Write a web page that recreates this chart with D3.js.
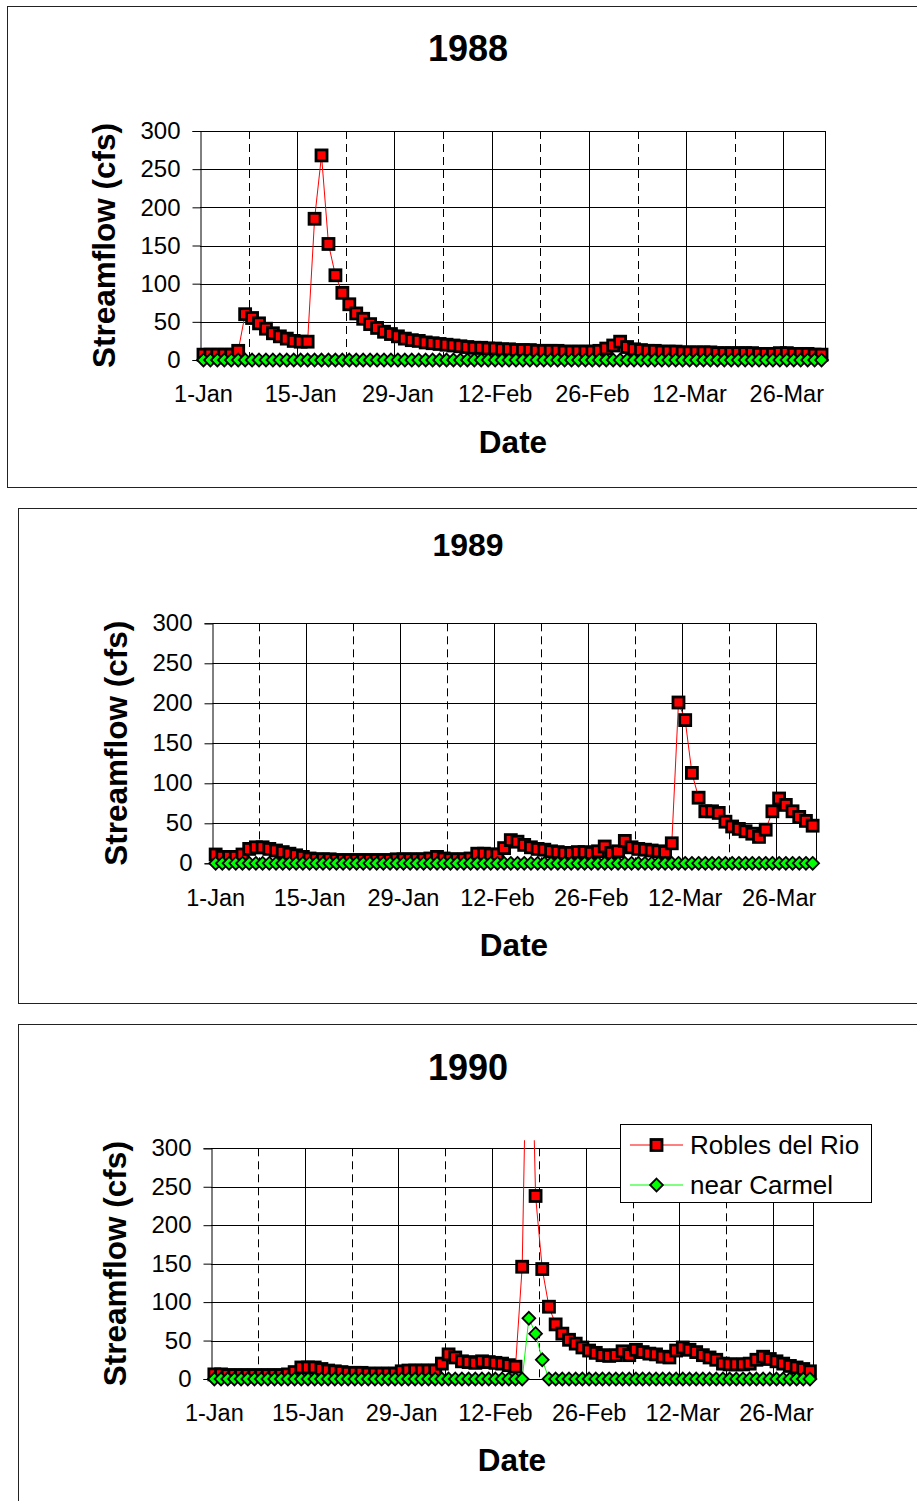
<!DOCTYPE html>
<html>
<head>
<meta charset="utf-8">
<script src="https://cdn.jsdelivr.net/npm/d3@7"></script>
<style>
  body { margin: 0; background: #fff; }
  svg { display: block; }
  text { font-family: "Liberation Sans", Arial, Helvetica, sans-serif; fill: #000; }
</style>
</head>
<body>
<svg id="chart" width="917" height="1501"></svg>
<script>
// Daily streamflow, Carmel River, 1 Jan – 30/31 Mar (cfs)
const tickDays = [0, 14, 28, 42, 56, 70, 84];
const tickLabels = ["1-Jan", "15-Jan", "29-Jan", "12-Feb", "26-Feb", "12-Mar", "26-Mar"];
const yTicks = [0, 50, 100, 150, 200, 250, 300];
const seriesNames = ["Robles del Rio", "near Carmel"];

const robles1988 = [
  7, 7, 7, 7, 7, 12, 60, 55, 48, 41,
  35, 31, 28, 25, 24, 24, 185, 268, 152, 111,
  88, 73, 61, 54, 47, 42, 37, 34, 31, 28,
  26, 25, 23, 22, 21, 20, 19, 18, 17, 16,
  16, 15, 15, 14, 14, 13, 13, 13, 12, 12,
  12, 12, 11, 11, 11, 11, 11, 12, 15, 19,
  24, 17, 14, 13, 12, 12, 11, 11, 11, 10,
  10, 10, 10, 10, 9, 9, 9, 9, 9, 9,
  8, 8, 8, 9, 9, 8, 8, 8, 7, 7
];
const carmel1988 = [
  0, 0, 0, 0, 0, 0, 0, 0, 0, 0,
  0, 0, 0, 0, 0, 0, 0, 0, 0, 0,
  0, 0, 0, 0, 0, 0, 0, 0, 0, 0,
  0, 0, 0, 0, 0, 0, 0, 0, 0, 0,
  0, 0, 0, 0, 0, 0, 0, 0, 0, 0,
  0, 0, 0, 0, 0, 0, 0, 0, 0, 0,
  0, 0, 0, 0, 0, 0, 0, 0, 0, 0,
  0, 0, 0, 0, 0, 0, 0, 0, 0, 0,
  0, 0, 0, 0, 0, 0, 0, 0, 0, 0
];

const robles1989 = [
  11, 8, 8, 8, 11, 18, 20, 20, 18, 16,
  14, 12, 10, 8, 6, 5, 5, 5, 4, 4,
  4, 4, 4, 4, 4, 4, 4, 5, 5, 5,
  5, 5, 6, 8, 6, 5, 5, 5, 6, 12,
  12, 11, 11, 19, 29, 27, 23, 20, 18, 17,
  15, 14, 13, 13, 14, 14, 13, 15, 21, 13,
  15, 28, 20, 18, 17, 16, 15, 14, 25, 201,
  179, 113, 82, 65, 65, 63, 52, 46, 43, 40,
  37, 33, 42, 65, 81, 73, 65, 58, 53, 47
];
const carmel1989 = [
  0, 0, 0, 0, 0, 0, 0, 0, 0, 0,
  0, 0, 0, 0, 0, 0, 0, 0, 0, 0,
  0, 0, 0, 0, 0, 0, 0, 0, 0, 0,
  0, 0, 0, 0, 0, 0, 0, 0, 0, 0,
  0, 0, 0, 0, 0, 0, 0, 0, 0, 0,
  0, 0, 0, 0, 0, 0, 0, 0, 0, 0,
  0, 0, 0, 0, 0, 0, 0, 0, 0, 0,
  0, 0, 0, 0, 0, 0, 0, 0, 0, 0,
  0, 0, 0, 0, 0, 0, 0, 0, 0, 0
];

const robles1990 = [
  6, 6, 5, 5, 5, 5, 5, 5, 5, 5,
  5, 6, 9, 15, 15, 15, 13, 11, 10, 9,
  8, 8, 8, 7, 7, 7, 7, 7, 10, 11,
  11, 11, 11, 11, 20, 32, 28, 23, 22, 21,
  23, 22, 21, 20, 18, 16, 146, 620, 238, 143,
  94, 71, 59, 51, 46, 41, 37, 34, 31, 30,
  31, 36, 31, 38, 35, 33, 32, 29, 28, 37,
  41, 38, 35, 31, 28, 25, 20, 19, 19, 19,
  20, 25, 29, 26, 23, 20, 17, 15, 13, 10
];
const carmel1990 = [
  0, 0, 0, 0, 0, 0, 0, 0, 0, 0,
  0, 0, 0, 0, 0, 0, 0, 0, 0, 0,
  0, 0, 0, 0, 0, 0, 0, 0, 0, 0,
  0, 0, 0, 0, 0, 0, 0, 0, 0, 0,
  0, 0, 0, 0, 0, 0, 0, 79, 59, 25,
  0, 0, 0, 0, 0, 0, 0, 0, 0, 0,
  0, 0, 0, 0, 0, 0, 0, 0, 0, 0,
  0, 0, 0, 0, 0, 0, 0, 0, 0, 0,
  0, 0, 0, 0, 0, 0, 0, 0, 0, 0
];

// Panel layout
const panels = [
  { title: "1988", robles: robles1988, carmel: carmel1988,
    box: [7, 6, 930, 487], plot: [200, 825, 131, 360],
    titleY: 48, titleSize: 36, yLabelX: 104, xLabelY: 394, dateX: 513, dateY: 442, legend: false },
  { title: "1989", robles: robles1989, carmel: carmel1989,
    box: [18, 508, 930, 1003], plot: [212.3, 816, 623.3, 863.3],
    titleY: 545, titleSize: 32, yLabelX: 116, xLabelY: 898, dateX: 514, dateY: 945, legend: false },
  { title: "1990", robles: robles1990, carmel: carmel1990,
    box: [18, 1024, 930, 1520], plot: [211, 813.3, 1148.3, 1379],
    titleY: 1067, titleSize: 36, yLabelX: 115, xLabelY: 1413, dateX: 512, dateY: 1460, legend: true }
];

const RED = "#ff0000", GREEN = "#00ff00";
const svg = d3.select("#chart");

function diamondPath(r) { return `M0,${-r}L${r},0L0,${r}L${-r},0Z`; }

function drawSquare(g, cx, cy) {
  g.append("rect").attr("x", cx - 5.5).attr("y", cy - 5.5)
    .attr("width", 11).attr("height", 11)
    .attr("fill", RED).attr("stroke", "#000").attr("stroke-width", 2.8);
}
function drawDiamond(g, cx, cy) {
  g.append("path").attr("d", diamondPath(6.4))
    .attr("transform", `translate(${cx},${cy})`)
    .attr("fill", GREEN).attr("stroke", "#000").attr("stroke-width", 1.8);
}

panels.forEach((p, pi) => {
  const [bx0, by0, bx1, by1] = p.box;
  const [x0, x1, yTop, yBot] = p.plot;
  const g = svg.append("g");

  g.append("rect").attr("x", bx0 + 0.5).attr("y", by0 + 0.5)
    .attr("width", bx1 - bx0).attr("height", by1 - by0)
    .attr("fill", "#fff").attr("stroke", "#222").attr("stroke-width", 1);

  const x = d3.scaleLinear().domain([0, 90]).range([x0, x1]);
  const y = d3.scaleLinear().domain([0, 300]).range([yBot, yTop]);

  // grid
  const gridDays = d3.range(7, 90, 7);
  g.selectAll(".vgrid").data(gridDays).join("line")
    .attr("x1", d => Math.round(x(d)) + 0.5).attr("x2", d => Math.round(x(d)) + 0.5)
    .attr("y1", yTop).attr("y2", yBot)
    .attr("stroke", "#000").attr("stroke-width", 1)
    .attr("stroke-dasharray", d => d % 14 === 0 ? null : "8,5");
  g.selectAll(".hgrid").data(yTicks.filter(v => v > 0)).join("line")
    .attr("x1", x0).attr("x2", x1)
    .attr("y1", d => Math.round(y(d)) + 0.5).attr("y2", d => Math.round(y(d)) + 0.5)
    .attr("stroke", "#000").attr("stroke-width", 1);
  g.append("line").attr("x1", Math.round(x1) + 0.5).attr("x2", Math.round(x1) + 0.5)
    .attr("y1", yTop).attr("y2", yBot).attr("stroke", "#000");

  // y axis
  const yAxis = d3.axisLeft(y).tickValues(yTicks).tickSize(8).tickPadding(12);
  const ya = g.append("g").attr("transform", `translate(${Math.round(x0) + 0.5},0)`).call(yAxis);
  ya.select(".domain").attr("stroke", "#000");
  ya.selectAll(".tick line").attr("stroke", "#000");
  ya.selectAll(".tick text").attr("font-size", 24)
    .style("font-family", '"Liberation Sans", Arial, sans-serif').attr("fill", "#000");
  // x axis baseline
  g.append("line").attr("x1", x0).attr("x2", x1)
    .attr("y1", Math.round(yBot) + 0.5).attr("y2", Math.round(yBot) + 0.5).attr("stroke", "#000");

  // x tick labels
  g.selectAll(".xlab").data(tickDays).join("text")
    .attr("x", (d) => x(d + 0.5)).attr("y", p.xLabelY)
    .attr("text-anchor", "middle").attr("dominant-baseline", "central")
    .attr("font-size", 23.5).text((d, i) => tickLabels[i]);

  // titles
  g.append("text").attr("x", 468).attr("y", p.titleY)
    .attr("text-anchor", "middle").attr("dominant-baseline", "central")
    .attr("font-size", p.titleSize).attr("font-weight", "bold").text(p.title);
  g.append("text").attr("x", p.dateX).attr("y", p.dateY)
    .attr("text-anchor", "middle").attr("dominant-baseline", "central")
    .attr("font-size", 31.5).attr("font-weight", "bold").text("Date");
  g.append("text")
    .attr("transform", `translate(${p.yLabelX},${(yTop + yBot) / 2}) rotate(-90)`)
    .attr("text-anchor", "middle").attr("dominant-baseline", "central")
    .attr("font-size", 31.5).attr("font-weight", "bold").text("Streamflow (cfs)");

  // series
  const clipId = "clip" + pi;
  svg.append("defs").append("clipPath").attr("id", clipId)
    .append("rect").attr("x", x0 - 10).attr("y", yTop - 8)
    .attr("width", x1 - x0 + 20).attr("height", yBot - yTop + 20);

  const line = d3.line().x((d, i) => x(i + 0.5)).y(d => y(d));

  const series = [
    { values: p.robles, color: RED, marker: drawSquare },
    { values: p.carmel, color: GREEN, marker: drawDiamond }
  ];
  series.forEach(s => {
    g.append("path").datum(s.values)
      .attr("d", line).attr("fill", "none")
      .attr("stroke", s.color).attr("stroke-width", 1)
      .attr("clip-path", `url(#${clipId})`);
    const mg = g.append("g");
    s.values.forEach((v, i) => {
      if (v <= 300) s.marker(mg, x(i + 0.5), y(v));
    });
  });

  if (p.legend) {
    const lg = g.append("g");
    lg.append("rect").attr("x", 620.5).attr("y", 1124.5).attr("width", 251).attr("height", 78)
      .attr("fill", "#fff").attr("stroke", "#000");
    const rows = [
      { name: seriesNames[0], color: RED, marker: drawSquare, cy: 1145 },
      { name: seriesNames[1], color: GREEN, marker: drawDiamond, cy: 1185 }
    ];
    rows.forEach(r => {
      lg.append("line").attr("x1", 630).attr("x2", 683).attr("y1", r.cy).attr("y2", r.cy)
        .attr("stroke", r.color).attr("stroke-width", 1);
      r.marker(lg, 656.5, r.cy);
      lg.append("text").attr("x", 690).attr("y", r.cy)
        .attr("dominant-baseline", "central").attr("font-size", 26).text(r.name);
    });
  }
});
</script>
</body>
</html>
